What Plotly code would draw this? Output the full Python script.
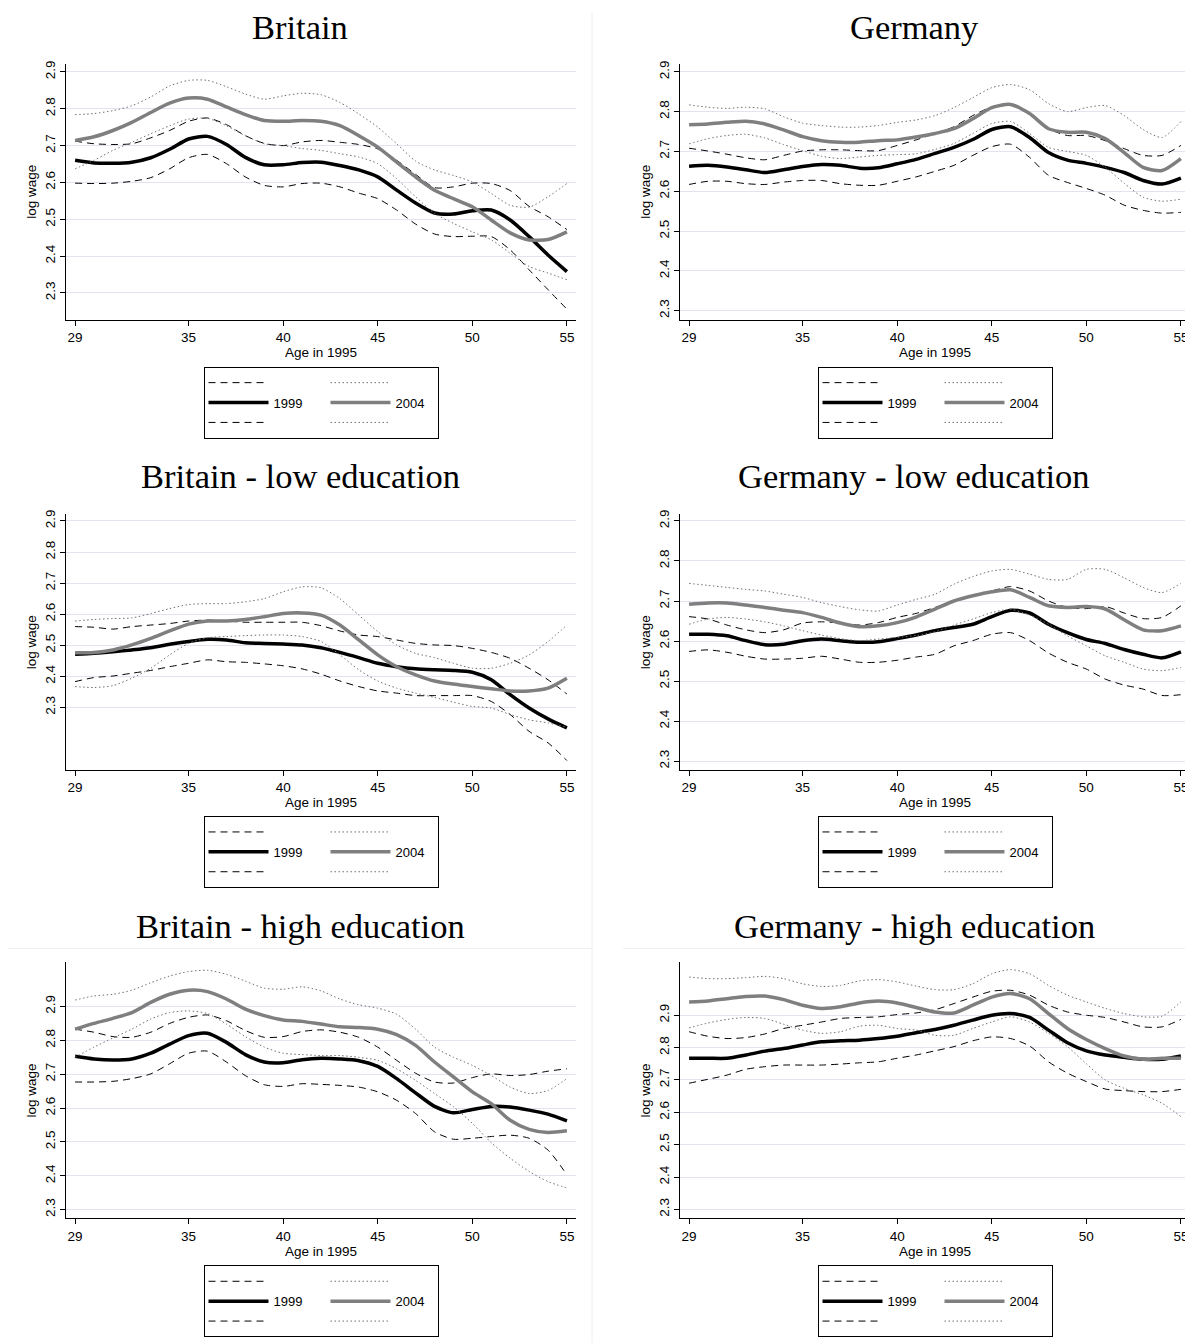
import plotly.graph_objects as go

ages = list(range(29, 56))
x_ticks = [29, 35, 40, 45, 50, 55]
y_ticks = [2.3, 2.4, 2.5, 2.6, 2.7, 2.8, 2.9]
titles = ["Britain", "Germany", "Britain - low education", "Germany - low education",
          "Britain - high education", "Germany - high education"]
year_a, year_b = "1999", "2004"

# ---- Britain
brit_99 = [2.660, 2.653, 2.652, 2.655, 2.667, 2.690, 2.718, 2.725, 2.703, 2.668, 2.648, 2.648, 2.654, 2.655, 2.646, 2.634, 2.615, 2.579, 2.544, 2.517, 2.514, 2.523, 2.525, 2.498, 2.453, 2.403, 2.358]
brit_99_hi = [2.712, 2.705, 2.703, 2.705, 2.721, 2.741, 2.766, 2.775, 2.757, 2.727, 2.706, 2.700, 2.710, 2.714, 2.709, 2.703, 2.691, 2.660, 2.622, 2.586, 2.588, 2.598, 2.597, 2.578, 2.535, 2.507, 2.472]
brit_99_lo = [2.598, 2.597, 2.598, 2.603, 2.613, 2.637, 2.667, 2.676, 2.651, 2.615, 2.592, 2.588, 2.597, 2.598, 2.588, 2.571, 2.556, 2.525, 2.487, 2.460, 2.453, 2.454, 2.453, 2.417, 2.363, 2.309, 2.256]
brit_04 = [2.714, 2.724, 2.741, 2.763, 2.790, 2.815, 2.829, 2.826, 2.805, 2.784, 2.768, 2.766, 2.768, 2.766, 2.754, 2.727, 2.696, 2.655, 2.615, 2.579, 2.556, 2.534, 2.498, 2.463, 2.444, 2.445, 2.466]
brit_04_hi = [2.784, 2.787, 2.795, 2.808, 2.832, 2.862, 2.877, 2.877, 2.860, 2.840, 2.826, 2.835, 2.842, 2.838, 2.817, 2.786, 2.750, 2.705, 2.658, 2.634, 2.619, 2.601, 2.570, 2.538, 2.533, 2.561, 2.597]
brit_04_lo = [2.637, 2.660, 2.687, 2.709, 2.732, 2.754, 2.772, 2.774, 2.754, 2.727, 2.705, 2.700, 2.692, 2.687, 2.678, 2.669, 2.651, 2.610, 2.561, 2.516, 2.489, 2.466, 2.444, 2.408, 2.372, 2.354, 2.336]

# ---- Germany
germ_99 = [2.663, 2.665, 2.661, 2.654, 2.647, 2.654, 2.662, 2.667, 2.665, 2.658, 2.659, 2.669, 2.680, 2.695, 2.710, 2.730, 2.755, 2.762, 2.735, 2.697, 2.678, 2.670, 2.660, 2.647, 2.627, 2.618, 2.633]
germ_99_hi = [2.708, 2.701, 2.693, 2.684, 2.679, 2.690, 2.701, 2.704, 2.704, 2.702, 2.702, 2.715, 2.729, 2.745, 2.762, 2.790, 2.812, 2.820, 2.797, 2.757, 2.740, 2.740, 2.727, 2.707, 2.690, 2.690, 2.715]
germ_99_lo = [2.617, 2.625, 2.625, 2.619, 2.617, 2.623, 2.627, 2.627, 2.619, 2.615, 2.615, 2.625, 2.636, 2.650, 2.665, 2.690, 2.712, 2.718, 2.685, 2.640, 2.622, 2.607, 2.590, 2.565, 2.552, 2.545, 2.547]
germ_04 = [2.767, 2.769, 2.773, 2.776, 2.769, 2.754, 2.737, 2.727, 2.723, 2.723, 2.727, 2.729, 2.736, 2.745, 2.757, 2.782, 2.810, 2.818, 2.795, 2.757, 2.748, 2.748, 2.732, 2.697, 2.660, 2.652, 2.682]
germ_04_hi = [2.817, 2.811, 2.808, 2.811, 2.807, 2.787, 2.771, 2.765, 2.761, 2.761, 2.765, 2.773, 2.779, 2.790, 2.810, 2.835, 2.860, 2.868, 2.855, 2.820, 2.800, 2.810, 2.815, 2.790, 2.755, 2.735, 2.775]
germ_04_lo = [2.719, 2.732, 2.740, 2.743, 2.734, 2.717, 2.702, 2.688, 2.682, 2.686, 2.690, 2.692, 2.694, 2.705, 2.720, 2.745, 2.770, 2.775, 2.745, 2.710, 2.700, 2.690, 2.660, 2.620, 2.585, 2.575, 2.580]

# ---- Britain - low education
brlo_99 = [2.471, 2.474, 2.479, 2.485, 2.492, 2.503, 2.512, 2.519, 2.517, 2.508, 2.506, 2.504, 2.501, 2.492, 2.477, 2.460, 2.442, 2.431, 2.424, 2.421, 2.419, 2.413, 2.389, 2.341, 2.298, 2.263, 2.234]
brlo_99_hi = [2.560, 2.558, 2.552, 2.560, 2.565, 2.570, 2.578, 2.581, 2.578, 2.574, 2.574, 2.574, 2.574, 2.563, 2.546, 2.533, 2.528, 2.517, 2.506, 2.501, 2.499, 2.490, 2.477, 2.458, 2.426, 2.389, 2.343]
brlo_99_lo = [2.383, 2.396, 2.401, 2.410, 2.419, 2.431, 2.442, 2.453, 2.447, 2.445, 2.440, 2.434, 2.424, 2.407, 2.385, 2.367, 2.353, 2.346, 2.338, 2.338, 2.338, 2.338, 2.319, 2.277, 2.223, 2.186, 2.129]
brlo_04 = [2.476, 2.477, 2.485, 2.501, 2.522, 2.546, 2.568, 2.578, 2.578, 2.583, 2.592, 2.602, 2.604, 2.597, 2.565, 2.517, 2.469, 2.431, 2.405, 2.385, 2.375, 2.367, 2.360, 2.353, 2.353, 2.362, 2.394]
brlo_04_hi = [2.578, 2.583, 2.586, 2.588, 2.602, 2.618, 2.631, 2.634, 2.634, 2.640, 2.650, 2.672, 2.688, 2.685, 2.650, 2.597, 2.544, 2.501, 2.474, 2.460, 2.442, 2.426, 2.426, 2.442, 2.469, 2.512, 2.565]
brlo_04_lo = [2.367, 2.364, 2.370, 2.394, 2.426, 2.469, 2.506, 2.524, 2.528, 2.531, 2.533, 2.533, 2.528, 2.512, 2.469, 2.421, 2.385, 2.362, 2.346, 2.332, 2.317, 2.303, 2.298, 2.277, 2.260, 2.250, 2.236]

# ---- Germany - low education
gelo_99 = [2.617, 2.617, 2.613, 2.601, 2.591, 2.592, 2.601, 2.605, 2.601, 2.597, 2.598, 2.606, 2.615, 2.626, 2.634, 2.642, 2.661, 2.677, 2.670, 2.642, 2.621, 2.604, 2.594, 2.579, 2.567, 2.558, 2.573]
gelo_99_hi = [2.661, 2.655, 2.640, 2.628, 2.621, 2.628, 2.645, 2.648, 2.645, 2.640, 2.646, 2.659, 2.669, 2.684, 2.700, 2.713, 2.725, 2.736, 2.725, 2.700, 2.684, 2.681, 2.686, 2.670, 2.656, 2.659, 2.688]
gelo_99_lo = [2.574, 2.578, 2.572, 2.562, 2.555, 2.555, 2.557, 2.562, 2.555, 2.547, 2.547, 2.552, 2.560, 2.567, 2.588, 2.601, 2.617, 2.621, 2.601, 2.570, 2.547, 2.530, 2.505, 2.490, 2.480, 2.464, 2.466]
gelo_04 = [2.692, 2.695, 2.695, 2.690, 2.684, 2.677, 2.671, 2.659, 2.645, 2.636, 2.638, 2.646, 2.660, 2.680, 2.700, 2.713, 2.723, 2.728, 2.709, 2.688, 2.684, 2.686, 2.680, 2.653, 2.628, 2.626, 2.638]
gelo_04_hi = [2.744, 2.739, 2.734, 2.729, 2.725, 2.717, 2.709, 2.696, 2.686, 2.678, 2.675, 2.690, 2.704, 2.717, 2.742, 2.761, 2.775, 2.779, 2.767, 2.754, 2.754, 2.779, 2.779, 2.758, 2.734, 2.721, 2.744]
gelo_04_lo = [2.642, 2.655, 2.659, 2.655, 2.648, 2.638, 2.626, 2.615, 2.606, 2.601, 2.605, 2.609, 2.614, 2.623, 2.640, 2.655, 2.671, 2.679, 2.665, 2.642, 2.613, 2.588, 2.563, 2.547, 2.530, 2.526, 2.534]

# ---- Britain - high education
brhi_99 = [2.753, 2.745, 2.742, 2.745, 2.762, 2.789, 2.814, 2.821, 2.794, 2.758, 2.736, 2.734, 2.743, 2.747, 2.745, 2.740, 2.723, 2.687, 2.645, 2.605, 2.586, 2.596, 2.605, 2.603, 2.594, 2.582, 2.562]
brhi_99_hi = [2.833, 2.824, 2.811, 2.809, 2.824, 2.850, 2.868, 2.875, 2.858, 2.829, 2.809, 2.811, 2.826, 2.831, 2.824, 2.809, 2.780, 2.741, 2.703, 2.677, 2.674, 2.690, 2.701, 2.696, 2.699, 2.709, 2.716]
brhi_99_lo = [2.677, 2.677, 2.679, 2.687, 2.701, 2.731, 2.762, 2.768, 2.736, 2.696, 2.669, 2.664, 2.672, 2.670, 2.667, 2.662, 2.648, 2.623, 2.584, 2.530, 2.508, 2.511, 2.516, 2.520, 2.511, 2.476, 2.403]
brhi_04 = [2.833, 2.850, 2.865, 2.882, 2.912, 2.936, 2.948, 2.944, 2.922, 2.892, 2.873, 2.860, 2.856, 2.848, 2.840, 2.838, 2.833, 2.817, 2.785, 2.736, 2.692, 2.648, 2.613, 2.564, 2.537, 2.528, 2.533]
brhi_04_hi = [2.919, 2.931, 2.936, 2.948, 2.970, 2.990, 3.003, 3.007, 2.995, 2.975, 2.954, 2.951, 2.958, 2.946, 2.922, 2.905, 2.895, 2.877, 2.833, 2.780, 2.750, 2.726, 2.696, 2.662, 2.643, 2.652, 2.687]
brhi_04_lo = [2.750, 2.780, 2.807, 2.833, 2.863, 2.882, 2.887, 2.879, 2.848, 2.811, 2.780, 2.762, 2.758, 2.755, 2.755, 2.750, 2.741, 2.716, 2.682, 2.643, 2.604, 2.555, 2.498, 2.452, 2.413, 2.383, 2.364]

# ---- Germany - high education
gehi_99 = [2.767, 2.767, 2.767, 2.777, 2.789, 2.797, 2.808, 2.818, 2.821, 2.823, 2.828, 2.835, 2.846, 2.856, 2.869, 2.885, 2.900, 2.905, 2.893, 2.854, 2.815, 2.790, 2.777, 2.770, 2.764, 2.764, 2.774]
gehi_99_hi = [2.849, 2.835, 2.828, 2.831, 2.842, 2.859, 2.869, 2.879, 2.890, 2.893, 2.895, 2.902, 2.907, 2.917, 2.936, 2.956, 2.974, 2.977, 2.962, 2.931, 2.910, 2.900, 2.893, 2.879, 2.864, 2.864, 2.887]
gehi_99_lo = [2.690, 2.702, 2.715, 2.733, 2.741, 2.746, 2.746, 2.746, 2.749, 2.753, 2.756, 2.767, 2.777, 2.790, 2.803, 2.821, 2.833, 2.828, 2.805, 2.756, 2.721, 2.695, 2.672, 2.667, 2.664, 2.664, 2.671]
gehi_04 = [2.941, 2.944, 2.951, 2.958, 2.959, 2.948, 2.931, 2.921, 2.926, 2.938, 2.944, 2.938, 2.924, 2.910, 2.907, 2.931, 2.956, 2.967, 2.951, 2.905, 2.859, 2.825, 2.797, 2.774, 2.764, 2.767, 2.767]
gehi_04_hi = [3.018, 3.013, 3.013, 3.016, 3.020, 3.013, 2.997, 2.989, 2.992, 3.006, 3.010, 3.003, 2.990, 2.979, 2.979, 2.997, 3.028, 3.041, 3.028, 2.992, 2.962, 2.941, 2.921, 2.905, 2.895, 2.897, 2.941]
gehi_04_lo = [2.861, 2.876, 2.887, 2.893, 2.890, 2.872, 2.854, 2.844, 2.849, 2.866, 2.869, 2.859, 2.854, 2.838, 2.838, 2.859, 2.879, 2.895, 2.879, 2.844, 2.803, 2.750, 2.700, 2.674, 2.654, 2.628, 2.587]

panels = [
    (brit_99, brit_99_hi, brit_99_lo, brit_04, brit_04_hi, brit_04_lo),
    (germ_99, germ_99_hi, germ_99_lo, germ_04, germ_04_hi, germ_04_lo),
    (brlo_99, brlo_99_hi, brlo_99_lo, brlo_04, brlo_04_hi, brlo_04_lo),
    (gelo_99, gelo_99_hi, gelo_99_lo, gelo_04, gelo_04_hi, gelo_04_lo),
    (brhi_99, brhi_99_hi, brhi_99_lo, brhi_04, brhi_04_hi, brhi_04_lo),
    (gehi_99, gehi_99_hi, gehi_99_lo, gehi_04, gehi_04_hi, gehi_04_lo),
]
y_ranges = [[2.227, 2.922], [2.277, 2.920], [2.098, 2.922],
            [2.2775, 2.917], [2.274, 3.030], [2.272, 3.063]]

W, H = 1193, 1343
# the page places the figure a few pixels right/down; target page pixels are converted
OX, OY = 8, 12
def px(x):
    return (x - OX) / W
def py(y):
    return 1 - (y - OY) / H

col_px = [(66, 576), (680, 1190)]
row_px = [(63, 320), (515, 772), (965, 1222)]
title_y_px = [26, 477, 928]
legend_top_px = [367, 818, 1269]

BLACK = "#000000"
GRAY = "#7f7f7f"
DOT = "#707070"
SANS = "Liberation Sans, Arial, sans-serif"
NB = "\u00a0"

fig = go.Figure()
layout = dict(width=W, height=H, margin=dict(l=0, r=0, t=0, b=0),
              paper_bgcolor="white", plot_bgcolor="white", showlegend=True)
annotations = []

for i, (m99, h99, l99, m04, h04, l04) in enumerate(panels):
    r, c = divmod(i, 2)
    n = "" if i == 0 else str(i + 1)
    xa, ya = "x" + n, "y" + n
    lg = "legend" + n
    common = dict(x=ages, xaxis=xa, yaxis=ya, legend=lg, mode="lines",
                  hoverinfo="skip", line_shape="spline")
    # 1999: dashed CI + thick black
    fig.add_trace(go.Scatter(y=h99, name="", legendgroup="a", legendrank=1,
                             line=dict(color=BLACK, width=1, dash="7px,5px", smoothing=0.7), **common))
    fig.add_trace(go.Scatter(y=l99, name="", legendgroup="a", legendrank=3,
                             line=dict(color=BLACK, width=1, dash="7px,5px", smoothing=0.7), **common))
    fig.add_trace(go.Scatter(y=m99, name=year_a + NB * 5, legendgroup="a", legendrank=2,
                             line=dict(color=BLACK, width=3.5, smoothing=0.7), **common))
    # 2004: dotted CI + thick gray
    fig.add_trace(go.Scatter(y=h04, name="", legendgroup="b", legendrank=4,
                             line=dict(color=DOT, width=1, dash="1.5px,2.5px", smoothing=0.7), **common))
    fig.add_trace(go.Scatter(y=l04, name="", legendgroup="b", legendrank=6,
                             line=dict(color=DOT, width=1, dash="1.5px,2.5px", smoothing=0.7), **common))
    fig.add_trace(go.Scatter(y=m04, name=year_b + NB * 2, legendgroup="b", legendrank=5,
                             line=dict(color=GRAY, width=3.5, smoothing=0.7), **common))

    x0, x1 = col_px[c]
    y0, y1 = row_px[r]
    layout["xaxis" + n] = dict(
        domain=[px(x0), px(x1)], anchor=ya, range=[28.52, 55.48],
        tickmode="array", tickvals=x_ticks, ticks="outside", ticklen=5, tickcolor=BLACK,
        showline=True, linecolor=BLACK, linewidth=1, showgrid=False, zeroline=False,
        tickfont=dict(family=SANS, size=13.5, color=BLACK),
        title=dict(text="Age in 1995", font=dict(family=SANS, size=13.5, color=BLACK), standoff=0),
    )
    layout["yaxis" + n] = dict(
        domain=[py(y1), py(y0)], anchor=xa, range=y_ranges[i],
        tickmode="array", tickvals=y_ticks, tickformat=".1f", tickangle=-90,
        ticks="outside", ticklen=5, tickcolor=BLACK,
        showline=True, linecolor=BLACK, linewidth=1,
        showgrid=True, gridcolor="#e3e3f0", gridwidth=1, zeroline=False,
        tickfont=dict(family=SANS, size=13.5, color=BLACK),
        title=dict(text="log wage", font=dict(family=SANS, size=13.5, color=BLACK), standoff=2),
    )
    layout[lg] = dict(
        x=px((x0 + x1) / 2), y=py(legend_top_px[r]), xanchor="center", yanchor="top",
        orientation="h", traceorder="grouped", itemwidth=60, tracegroupgap=0,
        bordercolor=BLACK, borderwidth=1, bgcolor="white",
        font=dict(family=SANS, size=13, color=BLACK),
    )
    annotations.append(dict(
        text=titles[i], xref="paper", yref="paper",
        x=px(300 + 614 * c), y=py(title_y_px[r]),
        xanchor="center", yanchor="middle", showarrow=False,
        font=dict(family="Liberation Serif, Times New Roman, serif", size=34.5, color=BLACK),
    ))

layout["annotations"] = annotations
faint = dict(color="#eeeef3", width=1)
layout["shapes"] = [
    dict(type="line", xref="paper", yref="paper", x0=px(592), x1=px(592), y0=0, y1=1, line=faint),
    dict(type="line", xref="paper", yref="paper", x0=0, x1=px(592), y0=py(951), y1=py(951), line=faint),
    dict(type="line", xref="paper", yref="paper", x0=px(623), x1=1, y0=py(951), y1=py(951), line=faint),
]
fig.update_layout(**layout)
fig.write_html("out.html")
